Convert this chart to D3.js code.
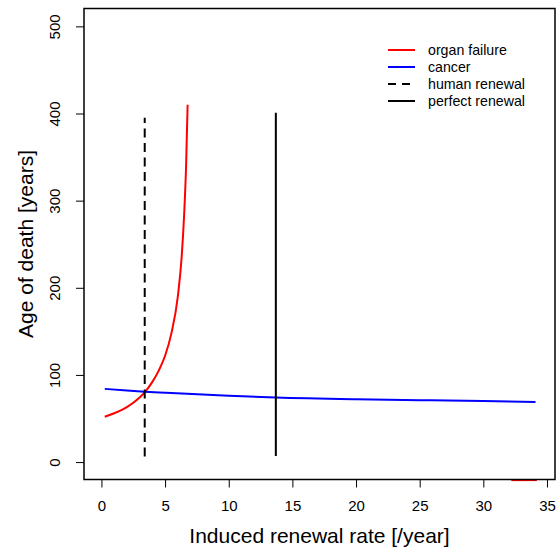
<!DOCTYPE html>
<html>
<head>
<meta charset="utf-8">
<script src="https://cdn.jsdelivr.net/npm/d3@7/dist/d3.min.js"></script>
<style>
  body { margin: 0; background: #fff; }
  text { font-family: "Liberation Sans", Arial, sans-serif; }
</style>
</head>
<body>
<script>
//Data
const organX = [0.26, 1, 2, 3, 3.4, 4, 4.5, 5, 5.5, 6, 6.3, 6.5, 6.65, 6.77];
const organY = [52, 56, 63, 74, 80, 92, 105, 122, 148, 190, 235, 285, 340, 410];
const organTailX = [32.2, 33.2, 34.2];
const organTailY = [-21.2, -21.1, -21.0];
const cancerX = [0.26, 2, 3.4, 5, 10, 13.7, 20, 25, 30, 34.1];
const cancerY = [84, 82, 80.7, 79.5, 76, 74, 72, 71, 70, 69];
const humanX = [3.4, 3.4];
const humanY = [6.5, 395];
const perfectX = [13.7, 13.7];
const perfectY = [7, 401];
const xTicks = [0, 5, 10, 15, 20, 25, 30, 35];
const yTicks = [0, 100, 200, 300, 400, 500];
const legendLabels = ["organ failure", "cancer", "human renewal", "perfect renewal"];

//Declare const variables
const width = 557;
const height = 549;
const boxL = 84, boxR = 555, boxT = 8.5, boxB = 479.5;

//Scales
const xScale = d3.scaleLinear().domain([-1.37, 35.63]).range([boxL, boxR]);
const yScale = d3.scaleLinear().domain([-20, 520.5]).range([boxB, boxT]);

const svg = d3.select("body")
    .append("svg")
    .attr("width", width)
    .attr("height", height);

svg.append("defs").append("clipPath")
    .attr("id", "plotclip")
    .append("rect")
    .attr("x", boxL).attr("y", boxT)
    .attr("width", boxR - boxL).attr("height", boxB - boxT + 1.8);

const line = d3.line()
    .x(d => xScale(d[0]))
    .y(d => yScale(d[1]));

const zip = (xs, ys) => xs.map((x, i) => [x, ys[i]]);

const plot = svg.append("g").attr("clip-path", "url(#plotclip)");

//Draw lines
plot.append("path")
    .datum(zip(organX, organY))
    .attr("d", line.curve(d3.curveMonotoneX))
    .attr("fill", "none").attr("stroke", "#ff0000").attr("stroke-width", 2);

plot.append("path")
    .datum(zip(organTailX, organTailY))
    .attr("d", line.curve(d3.curveLinear))
    .attr("fill", "none").attr("stroke", "#ff0000").attr("stroke-width", 2);

plot.append("path")
    .datum(zip(cancerX, cancerY))
    .attr("d", line.curve(d3.curveMonotoneX))
    .attr("fill", "none").attr("stroke", "#0000ff").attr("stroke-width", 2);

plot.append("path")
    .datum(zip(humanX, humanY))
    .attr("d", line.curve(d3.curveLinear))
    .attr("fill", "none").attr("stroke", "#000").attr("stroke-width", 2)
    .attr("stroke-dasharray", "9,5.5");

plot.append("path")
    .datum(zip(perfectX, perfectY))
    .attr("d", line.curve(d3.curveLinear))
    .attr("fill", "none").attr("stroke", "#000").attr("stroke-width", 2);

//Box
svg.append("rect")
    .attr("x", boxL).attr("y", boxT)
    .attr("width", boxR - boxL).attr("height", boxB - boxT)
    .attr("fill", "none").attr("stroke", "#000").attr("stroke-width", 1.5);

//Axes
const bottomAxis = d3.axisBottom(xScale).tickValues(xTicks).tickSize(8).tickPadding(12.5);
const leftAxis = d3.axisLeft(yScale).tickValues(yTicks).tickSize(8).tickPadding(5);

const gx = svg.append("g")
    .attr("transform", "translate(0," + boxB + ")")
    .call(bottomAxis);
gx.select(".domain").remove();
gx.selectAll("line").attr("stroke-width", 1);
gx.selectAll("text").attr("font-size", 15).attr("fill", "#000")
    .attr("font-family", "Liberation Sans, Arial, sans-serif");

const gy = svg.append("g")
    .attr("transform", "translate(" + boxL + ",0)")
    .call(leftAxis);
gy.select(".domain").remove();
gy.selectAll("line").attr("stroke-width", 1);
gy.selectAll("text")
    .attr("font-size", 15).attr("fill", "#000")
    .attr("font-family", "Liberation Sans, Arial, sans-serif")
    .attr("text-anchor", "middle")
    .attr("x", 0).attr("dy", 0)
    .attr("transform", "translate(-24,0) rotate(-90)");

//Axis titles
svg.append("text")
    .attr("x", (boxL + boxR) / 2)
    .attr("y", 543)
    .attr("text-anchor", "middle")
    .attr("font-size", 21)
    .text("Induced renewal rate [/year]");

svg.append("text")
    .attr("transform", "translate(33," + ((boxT + boxB) / 2) + ") rotate(-90)")
    .attr("text-anchor", "middle")
    .attr("font-size", 21)
    .text("Age of death [years]");

//Legend
const legendStyles = [
    { stroke: "#ff0000", dash: null },
    { stroke: "#0000ff", dash: null },
    { stroke: "#000", dash: "8,6" },
    { stroke: "#000", dash: null }
];
const legend = svg.append("g").attr("transform", "translate(388,50)");
legendLabels.forEach((label, i) => {
    const row = legend.append("g").attr("transform", "translate(0," + (i * 17) + ")");
    row.append("line")
        .attr("x1", 0).attr("x2", 27).attr("y1", 0).attr("y2", 0)
        .attr("stroke", legendStyles[i].stroke).attr("stroke-width", 2)
        .attr("stroke-dasharray", legendStyles[i].dash);
    row.append("text")
        .attr("x", 40).attr("y", 0).attr("dy", "0.35em")
        .attr("font-size", 14.2)
        .text(label);
});
</script>
</body>
</html>
